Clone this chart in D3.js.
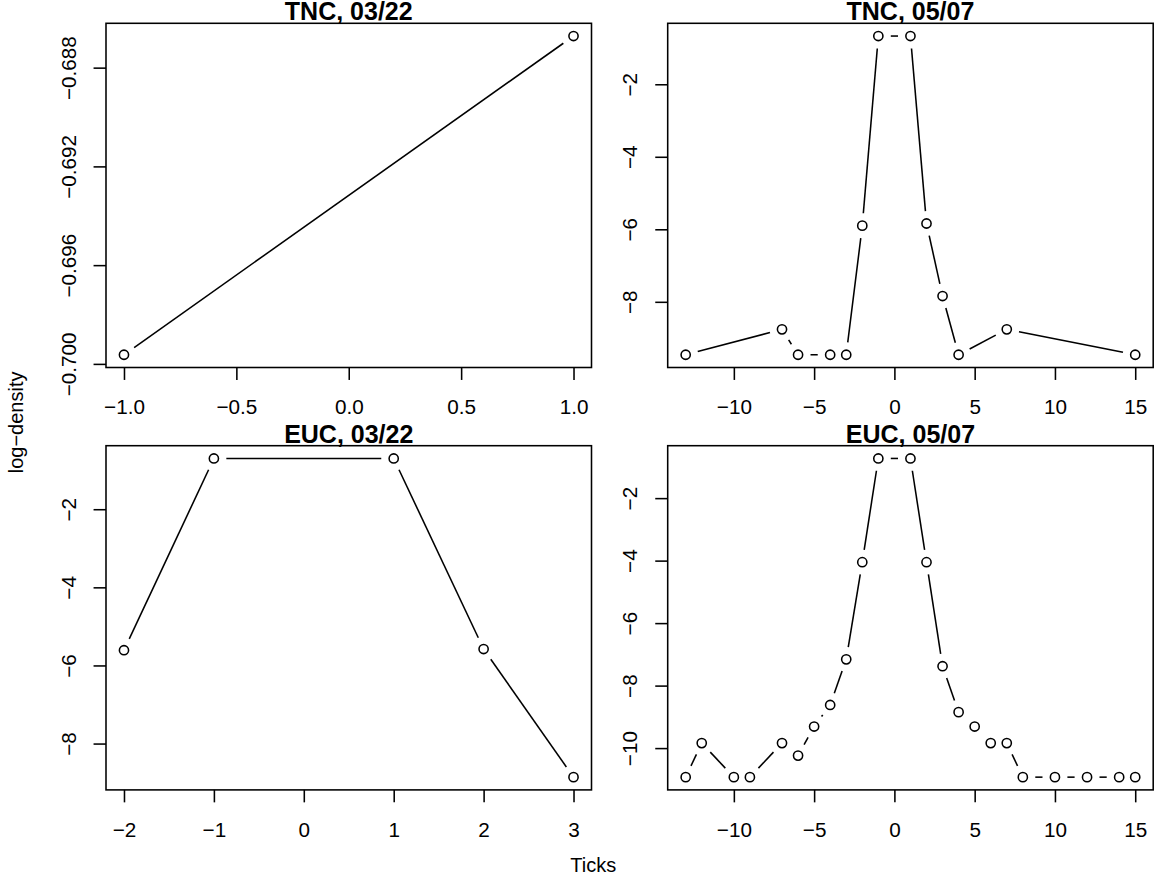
<!DOCTYPE html>
<html>
<head>
<meta charset="utf-8">
<script src="https://cdn.jsdelivr.net/npm/d3@7"></script>
<style>
  body { margin: 0; background: #fff; }
  svg { display: block; }
  text { font-family: "Liberation Sans", Arial, Helvetica, sans-serif; fill: #000; }
</style>
</head>
<body>
<svg id="chart"></svg>
<script>
// Data (log-density by tick offset)
const tnc0322X = [-1, 1];
const tnc0322Y = [-0.69963, -0.68672];

const tnc0507X = [-13, -7, -6, -4, -3, -2, -1, 1, 2, 3, 4, 7, 15];
const tnc0507Y = [-9.46, -8.76, -9.46, -9.46, -9.46, -5.9, -0.67, -0.67, -5.84, -7.84, -9.46, -8.76, -9.46];

const euc0322X = [-2, -1, 1, 2, 3];
const euc0322Y = [-5.61, -0.7, -0.7, -5.58, -8.86];

const euc0507X = [-13, -12, -10, -9, -7, -6, -5, -4, -3, -2, -1, 1, 2, 3, 4, 5, 6, 7, 8, 10, 12, 14, 15];
const euc0507Y = [-10.93, -9.84, -10.93, -10.93, -9.84, -10.24, -9.31, -8.62, -7.16, -4.05, -0.73, -0.73,
                  -4.05, -7.38, -8.85, -9.31, -9.84, -9.84, -10.93, -10.93, -10.93, -10.93, -10.93];

const titles = ["TNC, 03/22", "TNC, 05/07", "EUC, 03/22", "EUC, 05/07"];
const xTicks = [[-1, -0.5, 0, 0.5, 1], [-10, -5, 0, 5, 10, 15], [-2, -1, 0, 1, 2, 3], [-10, -5, 0, 5, 10, 15]];
const yTicks = [[-0.7, -0.696, -0.692, -0.688], [-2, -4, -6, -8], [-2, -4, -6, -8], [-2, -4, -6, -8, -10]];
const xFormats = [".1f", "d", "d", "d"];
const yFormats = [".3f", "d", "d", "d"];

// Layout (pixels)
const W = 1155, H = 894;
const cols = [106, 667.7], boxW = 485.5;
const rows = [23.3, 445.7], boxH = 344.2;
const lwd = 1.56, tickLen = 12.45, gap = 12.45, ptR = 4.6;
const fontSize = 20.7;

const svg = d3.select("#chart").attr("width", W).attr("height", H);

const panels = [
  { x: tnc0322X, y: tnc0322Y },
  { x: tnc0507X, y: tnc0507Y },
  { x: euc0322X, y: euc0322Y },
  { x: euc0507X, y: euc0507Y },
];

// R-style 4% padding on each side
function padded(vals) {
  const [a, b] = d3.extent(vals);
  const p = (b - a) * 0.04;
  return [a - p, b + p];
}

panels.forEach((p, i) => {
  const left = cols[i % 2], top = rows[Math.floor(i / 2)];
  const g = svg.append("g").attr("transform", `translate(${left},${top})`);

  const xScale = d3.scaleLinear().domain(padded(p.x)).range([0, boxW]);
  const yScale = d3.scaleLinear().domain(padded(p.y)).range([boxH, 0]);

  // box
  g.append("rect")
    .attr("width", boxW).attr("height", boxH)
    .attr("fill", "none").attr("stroke", "#000").attr("stroke-width", lwd);

  // x axis
  const xAxis = d3.axisBottom(xScale)
    .tickValues(xTicks[i])
    .tickFormat(d3.format(xFormats[i]))
    .tickSize(tickLen).tickSizeOuter(0);
  const xg = g.append("g").attr("transform", `translate(0,${boxH})`).call(xAxis);
  xg.select(".domain").remove();
  xg.selectAll("line").attr("stroke-width", lwd);
  xg.selectAll("text")
    .attr("y", 46.8).attr("dy", null)
    .style("font-size", fontSize + "px")
    .style("font-family", "'Liberation Sans', Arial, sans-serif");

  // y axis, labels parallel to the axis
  const yAxis = d3.axisLeft(yScale)
    .tickValues(yTicks[i])
    .tickFormat(d3.format(yFormats[i]))
    .tickSize(tickLen).tickSizeOuter(0);
  const yg = g.append("g").call(yAxis);
  yg.select(".domain").remove();
  yg.selectAll("line").attr("stroke-width", lwd);
  yg.selectAll("text")
    .attr("x", null).attr("dy", null)
    .attr("transform", "translate(-30.4,0) rotate(-90)")
    .attr("text-anchor", "middle")
    .style("font-size", fontSize + "px")
    .style("font-family", "'Liberation Sans', Arial, sans-serif");

  // title
  g.append("text")
    .attr("x", boxW / 2).attr("y", -3)
    .attr("text-anchor", "middle")
    .style("font-size", "25px").style("font-weight", "bold")
    .text(titles[i]);

  // type = "b": segments shortened by a gap at each end
  const pts = p.x.map((d, k) => [xScale(d), yScale(p.y[k])]);
  const segs = [];
  for (let k = 1; k < pts.length; k++) {
    const [x0, y0] = pts[k - 1], [x1, y1] = pts[k];
    const f = gap / Math.hypot(x1 - x0, y1 - y0);
    if (f < 0.5) {
      segs.push([x0 + f * (x1 - x0), y0 + f * (y1 - y0), x1 + f * (x0 - x1), y1 + f * (y0 - y1)]);
    }
  }
  g.selectAll(".seg").data(segs).join("line")
    .attr("class", "seg")
    .attr("x1", d => d[0]).attr("y1", d => d[1])
    .attr("x2", d => d[2]).attr("y2", d => d[3])
    .attr("stroke", "#000").attr("stroke-width", lwd);

  g.selectAll(".pt").data(pts).join("circle")
    .attr("class", "pt")
    .attr("cx", d => d[0]).attr("cy", d => d[1])
    .attr("r", ptR)
    .attr("fill", "none").attr("stroke", "#000").attr("stroke-width", lwd);
});

// outer labels
svg.append("text")
  .attr("transform", `translate(22.5,${844.8 / 2}) rotate(-90)`)
  .attr("text-anchor", "middle")
  .style("font-size", "20px")
  .text("log\u2212density");

svg.append("text")
  .attr("x", (31.6 + W) / 2).attr("y", 872)
  .attr("text-anchor", "middle")
  .style("font-size", "20px")
  .text("Ticks");
</script>
</body>
</html>
